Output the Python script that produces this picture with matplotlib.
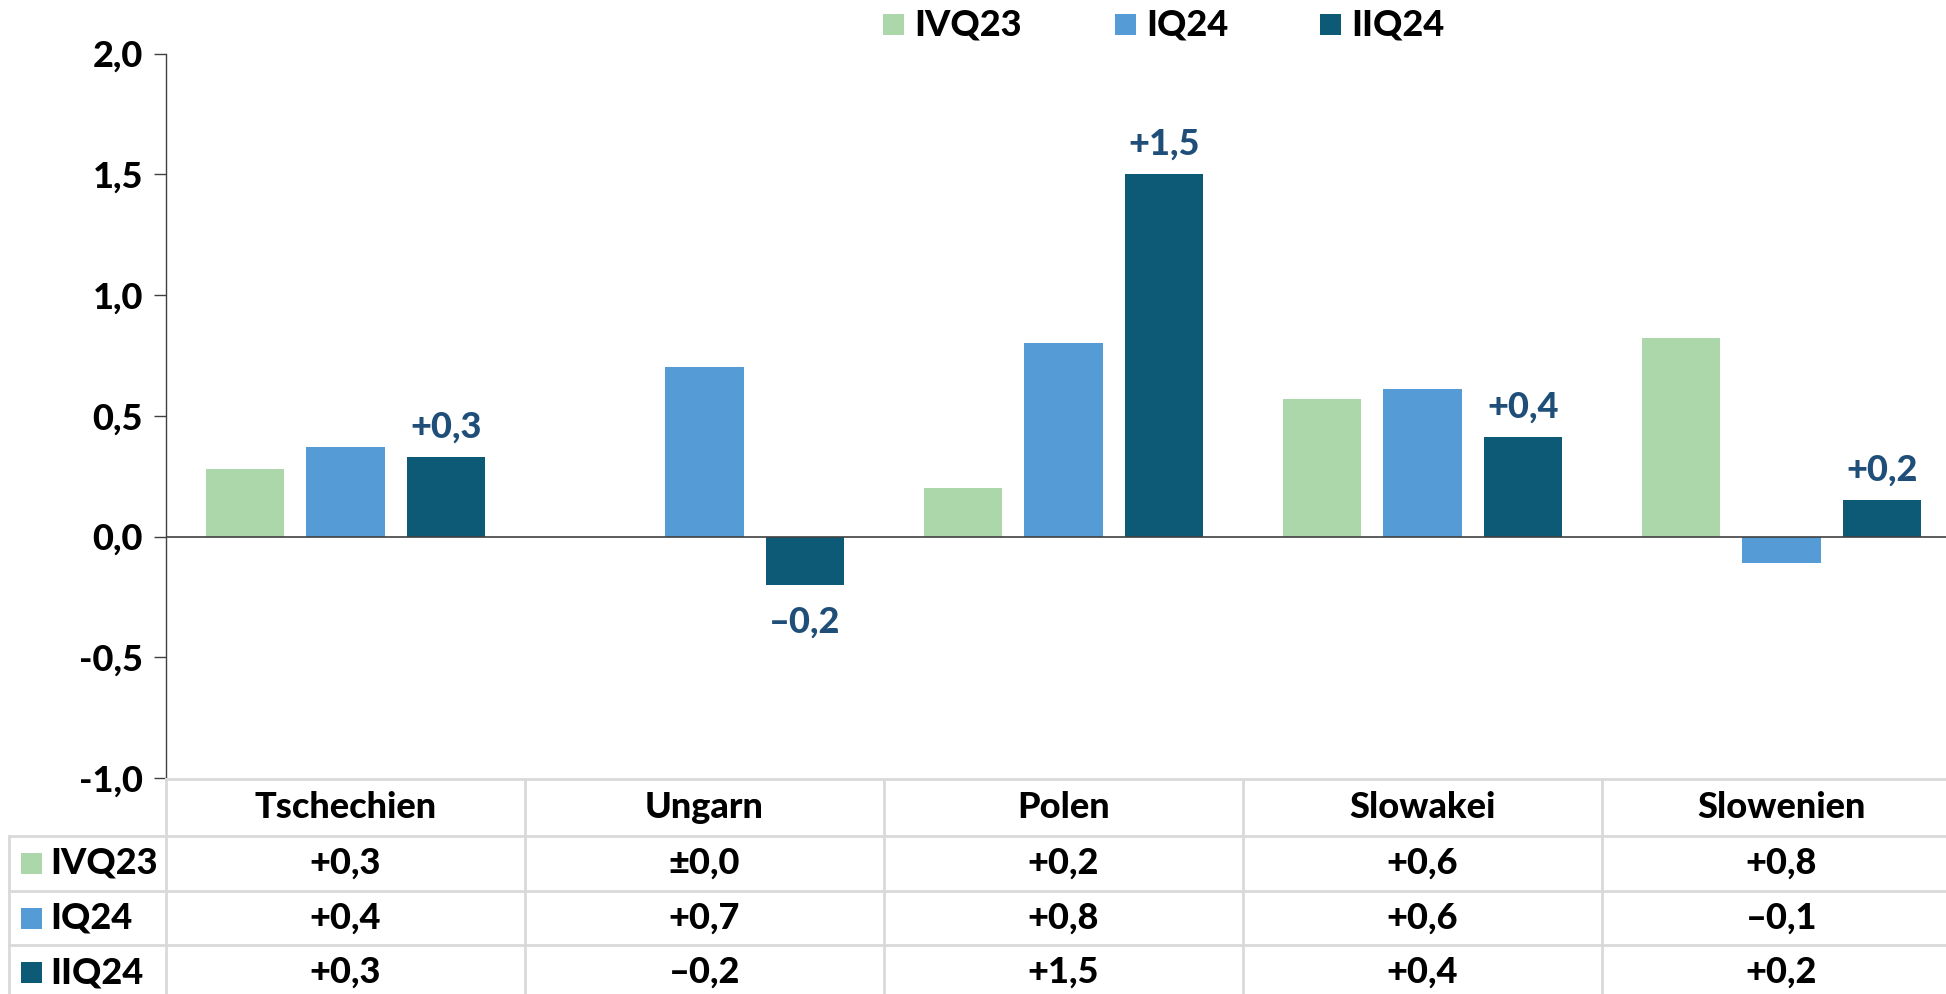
import numpy as np
import matplotlib.pyplot as plt
from matplotlib.patches import Rectangle
from matplotlib.lines import Line2D
from matplotlib.transforms import blended_transform_factory

# data
countries = ['Tschechien', 'Ungarn', 'Polen', 'Slowakei', 'Slowenien']
series = ['IVQ23', 'IQ24', 'IIQ24']
ivq23 = [0.28, 0.0, 0.20, 0.57, 0.82]
iq24 = [0.37, 0.70, 0.80, 0.61, -0.11]
iiq24 = [0.33, -0.20, 1.50, 0.41, 0.15]
ivq23_txt = ['+0,3', '\u00b10,0', '+0,2', '+0,6', '+0,8']
iq24_txt = ['+0,4', '+0,7', '+0,8', '+0,6', '\u20130,1']
iiq24_txt = ['+0,3', '\u20130,2', '+1,5', '+0,4', '+0,2']
yticks = [-1.0, -0.5, 0.0, 0.5, 1.0, 1.5, 2.0]
ytick_labels = ['-1,0', '-0,5', '0,0', '0,5', '1,0', '1,5', '2,0']

colors = ['#abd7aa', '#559bd6', '#0c5a76']
label_color = '#1f4e79'
grid_color = '#d9d9d9'
axis_color = '#404040'

W, H = 1946, 994
plt.rcParams['font.family'] = ['Lato', 'DejaVu Sans']
wt = 900
plt.rcParams['font.weight'] = wt
fs = 26

fig = plt.figure(figsize=(W / 100, H / 100), dpi=100)
ax = fig.add_axes([166 / W, 1 - 778 / H, (1961 - 166) / W, (778 - 53.5) / H])

x = np.arange(len(countries))
step = 0.279
bw = 0.2175
values = [ivq23, iq24, iiq24]
for k in range(len(series)):
    ax.bar(x + (k - 1) * step, values[k], bw, color=colors[k], linewidth=0, zorder=2)

# labels on the last series
for i, v in enumerate(iiq24):
    if v >= 0:
        ax.annotate(iiq24_txt[i], (x[i] + step, v), xytext=(0, 14), textcoords='offset points',
                    ha='center', va='baseline', fontsize=fs, color=label_color, fontweight=wt)
    else:
        ax.annotate(iiq24_txt[i], (x[i] + step, v), xytext=(0, -15), textcoords='offset points',
                    ha='center', va='top', fontsize=fs, color=label_color, fontweight=wt)

ax.axhline(0, color=axis_color, lw=1.2, zorder=3)
ax.set_xlim(-0.5, 4.5)
ax.set_ylim(-1, 2)
ax.set_yticks(yticks)
ax.set_yticklabels(ytick_labels, fontsize=fs, fontweight=wt)
ax.set_xticks([])
ax.tick_params(axis='y', length=8.6, width=1, color=axis_color, pad=8)
for s in ['top', 'right', 'bottom']:
    ax.spines[s].set_visible(False)
ax.spines['left'].set_color(axis_color)
ax.spines['left'].set_linewidth(1)

# table under the chart
trans = blended_transform_factory(ax.transData, fig.transFigure)
def fy(px):
    return 1 - px / H

x_left = -0.5 + (9 - 166) / 359.0
row_tops = [779, 836, 891, 945, 1000]
fig.add_artist(Line2D([-0.5, 4.6], [fy(779)] * 2, transform=trans, color=grid_color, lw=2, clip_on=False))
for r in row_tops[1:4]:
    fig.add_artist(Line2D([x_left, 4.6], [fy(r)] * 2, transform=trans, color=grid_color, lw=2, clip_on=False))
for i in range(len(countries) + 1):
    fig.add_artist(Line2D([i - 0.5] * 2, [fy(779), 0], transform=trans, color=grid_color, lw=2, clip_on=False))
fig.add_artist(Line2D([x_left] * 2, [fy(836), 0], transform=trans, color=grid_color, lw=2, clip_on=False))

for i, c in enumerate(countries):
    fig.text(x[i], fy(808), c, transform=trans, ha='center', va='center', fontsize=fs, fontweight=wt)

rows_txt = [ivq23_txt, iq24_txt, iiq24_txt]
for k in range(len(series)):
    yc = (row_tops[k + 1] + row_tops[k + 2]) / 2
    for i in range(len(countries)):
        fig.text(x[i], fy(yc), rows_txt[k][i], transform=trans, ha='center', va='center',
                 fontsize=fs, fontweight=wt)
    fig.add_artist(Rectangle((21 / W, fy(yc + 10.5)), 21 / W, 21 / H, transform=fig.transFigure,
                             color=colors[k], linewidth=0))
    fig.text(50 / W, fy(yc), series[k], ha='left', va='center', fontsize=fs, fontweight=wt)

# legend on top
leg_sq = [883, 1115, 1320]
for k in range(len(series)):
    fig.add_artist(Rectangle((leg_sq[k] / W, fy(35)), 21 / W, 21 / H, transform=fig.transFigure,
                             color=colors[k], linewidth=0))
    fig.text((leg_sq[k] + 31) / W, fy(24.5), series[k], ha='left', va='center', fontsize=fs, fontweight=wt)

fig.savefig('out.png', dpi=100)
